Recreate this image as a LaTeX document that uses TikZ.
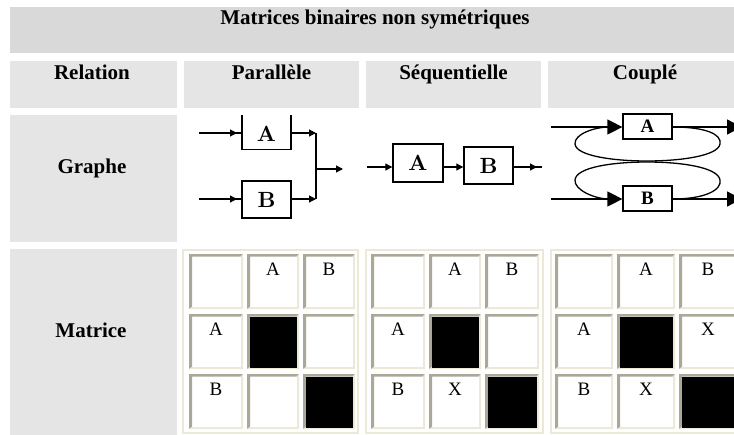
\documentclass[tikz,border=0pt]{standalone}
\usepackage{fontspec}
\setmainfont{Liberation Serif}
\newfontfamily\lmbold{lmroman10-bold.otf}
\usetikzlibrary{arrows.meta}
\definecolor{titlegray}{HTML}{D9D9D9}
\definecolor{headgray}{HTML}{E5E5E5}
\definecolor{cdark}{HTML}{ACA899}
\definecolor{clight}{HTML}{ECE9D8}
\newcommand\mcell[6]{%
  \fill[white] (#2,#3) rectangle (#4,#5);
  \fill[cdark] (#2,#3) -- (#4,#3) -- ({#4-2.5},{#3+2.5}) -- ({#2+3},{#3+2.5}) -- ({#2+3},{#5-2}) -- (#2,#5) -- cycle;
  \fill[clight] (#4,#5) -- (#2,#5) -- ({#2+3},{#5-2}) -- ({#4-2},{#5-2}) -- ({#4-2},{#3+2.5}) -- (#4,#3) -- cycle;
  \node[celltext] (#1) at ({(#2+#4)/2},{#3+21}) {#6};
}
\newcommand\mblack[4]{\fill[black] ({#1+3},{#2+3}) rectangle ({#3-2},{#4-1});}
\tikzset{
  headtext/.style={font=\bfseries\fontsize{21}{21}\selectfont, anchor=base, inner sep=0pt},
  celltext/.style={font=\fontsize{19}{19}\selectfont, anchor=base, inner sep=0pt},
  pbox/.style={draw, line width=1.4pt, inner sep=0pt, font=\lmbold\fontsize{22}{22}\selectfont},
  cbox/.style={draw, line width=1.2pt, inner sep=0pt, font=\bfseries\fontsize{19}{19}\selectfont},
  sline/.style={line width=1.1pt},
  sarr/.style={line width=1.1pt, -{Triangle[length=7pt,width=7pt]}},
  barr/.style={line width=1.2pt, -{Triangle[length=15pt,width=15pt]}},
  loopl/.style={line width=1.3pt},
  frame/.style={draw=clight, line width=2pt},
}
\begin{document}
\begin{tikzpicture}[x=1pt,y=-1pt]
\useasboundingbox (0,0) rectangle (734,434);
% backgrounds
\fill[titlegray] (10,7) rectangle (742,53);
\fill[headgray] (10,61) rectangle (177,108);
\fill[headgray] (184,61) rectangle (359,108);
\fill[headgray] (366,61) rectangle (541,108);
\fill[headgray] (548,61) rectangle (742,108);
\fill[headgray] (10,115) rectangle (177,242);
\fill[headgray] (10,249) rectangle (177,440);
% texts
\node[headtext] (title) at (375,24) {Matrices binaires non symétriques};
\node[headtext] (hrel) at (92,79) {Relation};
\node[headtext] (hpar) at (271.5,79) {Parallèle};
\node[headtext] (hseq) at (453.5,79) {Séquentielle};
\node[headtext] (hcou) at (645,79) {Couplé};
\node[headtext] (hgra) at (92,173) {Graphe};
\node[headtext] (hmat) at (91,337) {Matrice};
% ---- Parallel graph
\begin{scope}
\clip (184,115) rectangle (359,242);
\node[pbox, minimum width=49pt, text height=35.5pt, text depth=8.5pt, anchor=base] (pA) at (266.5,141) {A};
\end{scope}
\node[pbox, minimum width=49pt, minimum height=37pt] (pB) at (266.5,199.5) {B};
\coordinate (pAi) at (199,133);
\coordinate (pBi) at (199,199);
\coordinate (pAt) at (237,133);
\coordinate (pBt) at (237,199);
\coordinate (pJa) at (316,133);
\coordinate (pJb) at (316,199);
\coordinate (pM) at (316,169);
\coordinate (pOut) at (343,169);
\draw[sline] (pAi) -- (pA.west |- pAi);
\draw[sarr] (pAi) -- (pAt);
\draw[sline] (pBi) -- (pB.west |- pBi);
\draw[sarr] (pBi) -- (pBt);
\draw[sarr] (pA.east |- pAi) -- (pJa);
\draw[sarr] (pB.east |- pBi) -- (pJb);
\draw[sline] (pJa) -- (pJb);
\draw[sarr] (pM) -- (pOut);
% ---- Sequential graph
\node[pbox, minimum width=50pt, minimum height=38pt] (sA) at (418,163) {A};
\node[pbox, minimum width=49pt, minimum height=37pt] (sB) at (488.5,165.5) {B};
\coordinate (si) at (367,167);
\coordinate (so) at (537,167);
\coordinate (se) at (542,167);
\draw[sarr] (si) -- (sA.west |- si);
\draw[sarr] (sA.east |- si) -- (sB.west |- si);
\draw[sline] (sB.east |- si) -- (se);
\draw[sarr] (sB.east |- si) -- (so);
% ---- Coupled graph
\node[cbox, minimum width=49pt, minimum height=25pt] (cA) at (647.5,126.5) {A};
\node[cbox, minimum width=49pt, minimum height=25pt] (cB) at (647.5,198.5) {B};
\coordinate (cAi) at (551,127);
\coordinate (cBi) at (551,199);
\coordinate (cAo) at (742,127);
\coordinate (cBo) at (742,199);
\coordinate (cAb) at (609,127);
\coordinate (cBb) at (609,199);
\draw[barr] (cAi) -- (cA.west |- cAi);
\draw[barr] (cBi) -- (cB.west |- cBi);
\draw[barr] (cA.east |- cAi) -- (cAo);
\draw[barr] (cB.east |- cBi) -- (cBo);
\draw[loopl] (cA.east |- cAi) .. controls (705,127) and (722,134) .. (720,144)
  .. controls (718,156) and (680,161) .. (647,161)
  .. controls (614,161) and (576,156) .. (575,144)
  .. controls (574,134) and (595,127) .. (cAb);
\draw[loopl] (cB.east |- cBi) .. controls (705,199) and (722,190) .. (720,180)
  .. controls (718,167) and (680,162) .. (647,162)
  .. controls (614,162) and (576,167) .. (575,180)
  .. controls (574,190) and (595,199) .. (cBb);
% ---- Matrices
\draw[frame] (183,250) rectangle (358,433);
\draw[frame] (366,250) rectangle (543,433);
\draw[frame] (551,250) rectangle (745,433);
% column 1
\mcell{m1aa}{189}{254}{243}{309}{}
\mcell{m1ab}{247}{254}{299}{309}{A}
\mcell{m1ac}{303}{254}{355}{309}{B}
\mcell{m1ba}{189}{314}{243}{369}{A}
\mcell{m1bb}{247}{314}{299}{369}{}
\mcell{m1bc}{303}{314}{355}{369}{}
\mcell{m1ca}{189}{374}{243}{429}{B}
\mcell{m1cb}{247}{374}{299}{429}{}
\mcell{m1cc}{303}{374}{355}{429}{}
\mblack{247}{314}{299}{369}
\mblack{303}{374}{355}{429}
% column 2
\mcell{m2aa}{371}{254}{425}{309}{}
\mcell{m2ab}{429}{254}{481}{309}{A}
\mcell{m2ac}{485}{254}{539}{309}{B}
\mcell{m2ba}{371}{314}{425}{369}{A}
\mcell{m2bb}{429}{314}{481}{369}{}
\mcell{m2bc}{485}{314}{539}{369}{}
\mcell{m2ca}{371}{374}{425}{429}{B}
\mcell{m2cb}{429}{374}{481}{429}{X}
\mcell{m2cc}{485}{374}{539}{429}{}
\mblack{429}{314}{481}{369}
\mblack{485}{374}{539}{429}
% column 3
\mcell{m3aa}{555}{254}{613}{309}{}
\mcell{m3ab}{617}{254}{675}{309}{A}
\mcell{m3ac}{679}{254}{737}{309}{B}
\mcell{m3ba}{555}{314}{613}{369}{A}
\mcell{m3bb}{617}{314}{675}{369}{}
\mcell{m3bc}{679}{314}{737}{369}{X}
\mcell{m3ca}{555}{374}{613}{429}{B}
\mcell{m3cb}{617}{374}{675}{429}{X}
\mcell{m3cc}{679}{374}{737}{429}{}
\mblack{617}{314}{675}{369}
\mblack{679}{374}{737}{429}
\end{tikzpicture}
\end{document}
